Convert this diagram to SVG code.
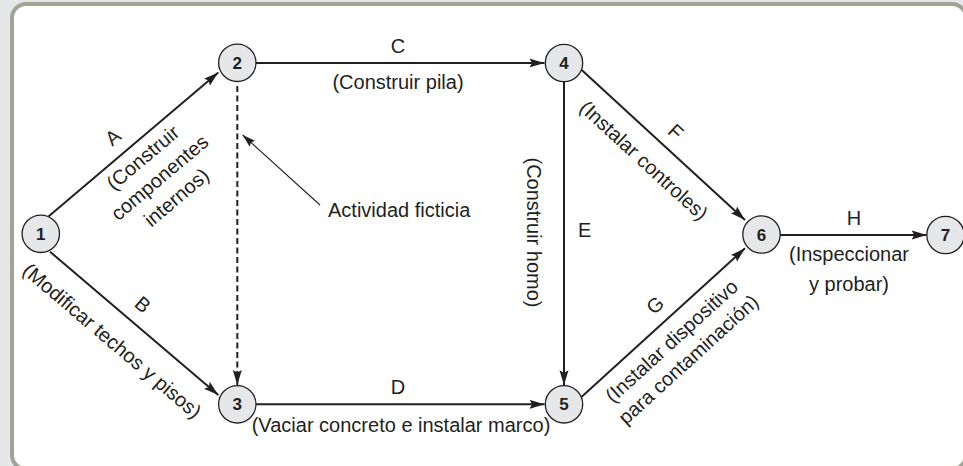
<svg xmlns="http://www.w3.org/2000/svg" width="963" height="466" viewBox="0 0 963 466">
<defs>
<style>
.t{font-family:"Liberation Sans",Arial,Helvetica,sans-serif;font-size:20px;fill:#231f20}
.m{text-anchor:middle}
.n{font-family:"Liberation Sans",Arial,Helvetica,sans-serif;font-size:17px;font-weight:bold;fill:#231f20;text-anchor:middle}
.node{fill:#e6e7e8;stroke:#231f20;stroke-width:1.3}
.e{stroke:#231f20;stroke-width:2;fill:none;marker-end:url(#arr)}
.d{stroke:#231f20;stroke-width:2;fill:none;stroke-dasharray:6 3.5;marker-end:url(#arr)}
.a{stroke:#231f20;stroke-width:1.1;fill:none;marker-end:url(#arrs)}
</style>
<marker id="arr" markerUnits="userSpaceOnUse" markerWidth="16" markerHeight="10" viewBox="0 0 16 10" refX="15" refY="5" orient="auto">
<path d="M0,0.5 L15,5 L0,9.5 L2.5,5 Z" fill="#231f20"/>
</marker>
<marker id="arrs" markerUnits="userSpaceOnUse" markerWidth="14" markerHeight="10" viewBox="0 0 14 10" refX="13" refY="5" orient="auto">
<path d="M0,1 L13,5 L0,9 L2,5 Z" fill="#231f20"/>
</marker>
</defs>
<rect x="0" y="0" width="963" height="466" fill="#e6e7e8"/>
<rect x="12" y="4" width="954" height="465" rx="14" fill="#ffffff" stroke="#a2a297" stroke-width="4"/>

<g id="connectors">
<line class="e" x1="48.5" y1="216.5" x2="218.3" y2="72.5"/>
<line class="e" x1="50" y1="251.7" x2="218.3" y2="395"/>
<line class="d" x1="237.3" y1="86" x2="237.3" y2="385"/>
<line class="e" x1="256" y1="63" x2="544.5" y2="63"/>
<line class="e" x1="256" y1="404.3" x2="544.5" y2="404.3"/>
<line class="e" x1="564" y1="82" x2="564" y2="385.3"/>
<line class="e" x1="581.7" y1="70" x2="745" y2="220"/>
<line class="e" x1="581.7" y1="396.7" x2="745" y2="248.3"/>
<line class="e" x1="780" y1="235" x2="926.7" y2="235"/>
<line class="a" x1="320" y1="205" x2="242.7" y2="135"/>
</g>

<g id="labels">
<g transform="translate(132.4,145.4) rotate(-40.25)">
<text class="t m" x="-9.5" y="-12">A</text>
<text class="t m" x="0" y="23">(Construir</text>
<text class="t m" x="0" y="49">componentes</text>
<text class="t m" x="0" y="75">internos)</text>
</g>
<g transform="translate(130,319.8) rotate(40.4)">
<text class="t m" x="0" y="-13">B</text>
<text class="t m" x="0" y="34.5">(Modificar techos y pisos)</text>
</g>
<text class="t m" x="398" y="53">C</text>
<text class="t m" x="398" y="89">(Construir pila)</text>
<text class="t" x="328" y="217">Actividad ficticia</text>
<text class="t m" x="398" y="394">D</text>
<text class="t m" x="401" y="432">(Vaciar concreto e instalar marco)</text>
<text class="t" x="578" y="237">E</text>
<g transform="translate(527,232.5) rotate(90)">
<text class="t m" x="0" y="0">(Construir homo)</text>
</g>
<g transform="translate(662,143.7) rotate(42.6)">
<text class="t m" x="2" y="-11">F</text>
<text class="t m" x="-2" y="31.5">(Instalar controles)</text>
</g>
<g transform="translate(658.7,326.8) rotate(-42.3)">
<text class="t m" x="12" y="-11.5">G</text>
<text class="t m" x="0" y="26">(Instalar dispositivo</text>
<text class="t m" x="0" y="51">para contaminación)</text>
</g>
<text class="t m" x="854" y="225">H</text>
<text class="t m" x="849" y="261">(Inspeccionar</text>
<text class="t m" x="849" y="291">y probar)</text>
</g>

<g id="node1"><circle class="node" cx="40.8" cy="233.8" r="18.7"/><text class="n" x="40.8" y="239.8">1</text></g>
<g id="node2"><circle class="node" cx="237.3" cy="62.8" r="18.7"/><text class="n" x="237.3" y="68.8">2</text></g>
<g id="node3"><circle class="node" cx="237.3" cy="404.3" r="18.7"/><text class="n" x="237.3" y="410.3">3</text></g>
<g id="node4"><circle class="node" cx="564" cy="63" r="18.7"/><text class="n" x="564" y="69">4</text></g>
<g id="node5"><circle class="node" cx="564" cy="404.3" r="18.7"/><text class="n" x="564" y="410.3">5</text></g>
<g id="node6"><circle class="node" cx="761.5" cy="234.5" r="18.7"/><text class="n" x="761.5" y="240.5">6</text></g>
<g id="node7"><circle class="node" cx="945.5" cy="235" r="18.7"/><text class="n" x="945.5" y="241">7</text></g>
</svg>
